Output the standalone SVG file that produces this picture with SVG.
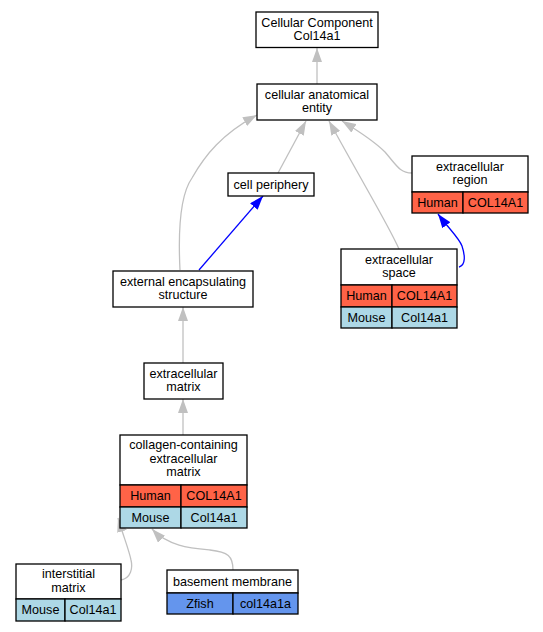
<svg xmlns="http://www.w3.org/2000/svg" width="543" height="632" viewBox="0 0 543 632">
<style>
text{font-family:"Liberation Sans",Arial,sans-serif;font-size:12.6px;fill:#000;text-anchor:middle}
.box{fill:#fff;stroke:#000;stroke-width:1.3}
.hu{fill:#ff6347;stroke:#000;stroke-width:1.3}
.mo{fill:#add8e6;stroke:#000;stroke-width:1.3}
.zf{fill:#6495ed;stroke:#000;stroke-width:1.3}
.eg{fill:none;stroke:#c0c0c0;stroke-width:1.3}
.eb{fill:none;stroke:#0000ff;stroke-width:1.3}
</style>
<defs>
<marker id="ag" markerUnits="userSpaceOnUse" markerWidth="14" markerHeight="10" refX="14" refY="5" orient="auto"><path d="M0,0 L14,5 L0,10 z" fill="#c0c0c0"/></marker>
<marker id="ab" markerUnits="userSpaceOnUse" markerWidth="14" markerHeight="10" refX="14" refY="5" orient="auto"><path d="M0,0 L14,5 L0,10 z" fill="#0000ff"/></marker>
</defs>
<rect width="543" height="632" fill="#fff"/>
<g id="edges">
<path class="eg" marker-end="url(#ag)" d="M317,84 L317,48"/>
<path class="eg" marker-end="url(#ag)" d="M278,173 L306,121"/>
<path class="eg" marker-end="url(#ag)" d="M399,249 C390,228 368,192 329,121"/>
<path class="eg" marker-end="url(#ag)" d="M412,173 C400,173 397,166 385,152 C375,142 360,132 342,121"/>
<path class="eg" marker-end="url(#ag)" d="M180,270 C178,230 180,195 192,178 C205,155 222,134 257,115"/>
<path class="eb" marker-end="url(#ab)" d="M199,270 L263,196"/>
<path class="eb" marker-end="url(#ab)" d="M459,267 C466,265 465,255 462,246 C459,238 450,230 438,214"/>
<path class="eg" marker-end="url(#ag)" d="M183,363 L183,307"/>
<path class="eg" marker-end="url(#ag)" d="M183,435 L183,399"/>
<path class="eg" marker-end="url(#ag)" d="M121,580 C131,578 133,568 131,560 C129,550 124,538 118,518"/>
<path class="eg" marker-end="url(#ag)" d="M233,570 C233,556 228,552 210,550 C190,548 168,546 152,529"/>
</g>
<g id="n_cc">
<rect class="box" x="256" y="12" width="122" height="35.5"/>
<text x="317" y="26.5">Cellular Component</text>
<text x="317" y="39.5">Col14a1</text>
</g>
<g id="n_cae">
<rect class="box" x="257" y="84" width="120" height="36"/>
<text x="317" y="98.5">cellular anatomical</text>
<text x="317" y="112">entity</text>
</g>
<g id="n_cp">
<rect class="box" x="228" y="173" width="86" height="23"/>
<text x="271" y="188.5">cell periphery</text>
</g>
<g id="n_er">
<rect class="box" x="412" y="156" width="116" height="36"/>
<text x="470" y="170.5">extracellular</text>
<text x="470" y="184">region</text>
<rect class="hu" x="412" y="192" width="51" height="21"/>
<rect class="hu" x="463" y="192" width="65" height="21"/>
<text x="437.5" y="206.5">Human</text>
<text x="495.5" y="206.5">COL14A1</text>
</g>
<g id="n_es">
<rect class="box" x="341" y="249" width="116" height="36"/>
<text x="399" y="263.5">extracellular</text>
<text x="399" y="277">space</text>
<rect class="hu" x="341" y="285" width="51" height="22"/>
<rect class="hu" x="392" y="285" width="65" height="22"/>
<text x="366.5" y="300">Human</text>
<text x="424.5" y="300">COL14A1</text>
<rect class="mo" x="341" y="307" width="51" height="21"/>
<rect class="mo" x="392" y="307" width="65" height="21"/>
<text x="366.5" y="321.5">Mouse</text>
<text x="424.5" y="321.5">Col14a1</text>
</g>
<g id="n_ees">
<rect class="box" x="113" y="271" width="140" height="36"/>
<text x="183" y="285.5">external encapsulating</text>
<text x="183" y="299">structure</text>
</g>
<g id="n_ecm">
<rect class="box" x="144" y="363" width="79" height="36"/>
<text x="183.5" y="377.5">extracellular</text>
<text x="183.5" y="391">matrix</text>
</g>
<g id="n_cecm">
<rect class="box" x="120" y="435" width="127" height="50"/>
<text x="183.5" y="449">collagen-containing</text>
<text x="183.5" y="462.5">extracellular</text>
<text x="183.5" y="476">matrix</text>
<rect class="hu" x="120" y="485" width="61" height="22"/>
<rect class="hu" x="181" y="485" width="66" height="22"/>
<text x="150.5" y="500">Human</text>
<text x="214" y="500">COL14A1</text>
<rect class="mo" x="120" y="507" width="61" height="21"/>
<rect class="mo" x="181" y="507" width="66" height="21"/>
<text x="150.5" y="521.5">Mouse</text>
<text x="214" y="521.5">Col14a1</text>
</g>
<g id="n_im">
<rect class="box" x="16" y="564" width="105" height="35"/>
<text x="68.5" y="578">interstitial</text>
<text x="68.5" y="591.5">matrix</text>
<rect class="mo" x="16" y="599" width="49" height="22"/>
<rect class="mo" x="65" y="599" width="56" height="22"/>
<text x="40.5" y="614">Mouse</text>
<text x="93" y="614">Col14a1</text>
</g>
<g id="n_bm">
<rect class="box" x="167" y="570" width="131" height="23"/>
<text x="232.5" y="585.5">basement membrane</text>
<rect class="zf" x="167" y="593" width="66" height="21"/>
<rect class="zf" x="233" y="593" width="65" height="21"/>
<text x="200" y="607.5">Zfish</text>
<text x="265.5" y="607.5">col14a1a</text>
</g>
</svg>
